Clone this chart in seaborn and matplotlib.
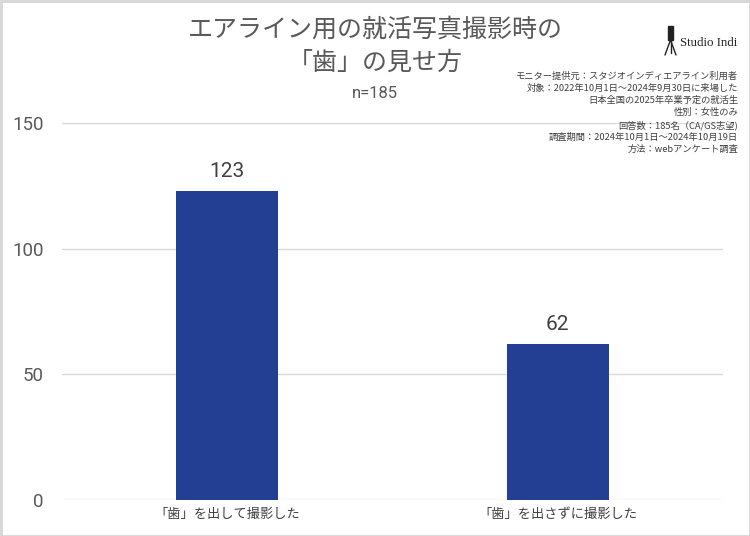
import matplotlib
matplotlib.use("Agg")
import matplotlib.pyplot as plt
import seaborn as sns
import pandas as pd
from matplotlib.patches import Rectangle
from matplotlib.lines import Line2D

categories = ["「歯」を出して撮影した", "「歯」を出さずに撮影した"]
values = [123, 62]
yticks = [0, 50, 100, 150]
title_lines = ["エアライン用の就活写真撮影時の", "「歯」の見せ方"]
subtitle = "n=185"
notes = [
    "モニター提供元：スタジオインディエアライン利用者",
    "対象：2022年10月1日～2024年9月30日に来場した",
    "日本全国の2025年卒業予定の就活生",
    "性別：女性のみ",
    "回答数：185名（CA/GS志望)",
    "調査期間：2024年10月1日～2024年10月19日",
    "方法：webアンケート調査",
]

sns.set_theme(style="white")
plt.rcParams['font.family'] = ['Noto Sans CJK JP', 'DejaVu Sans']

df = pd.DataFrame({"cat": categories, "val": values})

fig = plt.figure(figsize=(7.5, 5.36), dpi=100)
ax = fig.add_axes([62/750, 1-500/536, (723-62)/750, (500-123)/536])

sns.barplot(data=df, x="cat", y="val", ax=ax, color="#233F94", width=0.31,
            saturation=1, edgecolor="none")
ax.set_xlim(-0.5, 1.5)
ax.set_ylim(0, 150)
ax.set_yticks(yticks)
ax.set_yticklabels([str(t) for t in yticks], fontsize=13.5, color="#595959",
                   family=['Roboto', 'DejaVu Sans'])
ax.tick_params(axis='y', length=0, pad=13)
ax.tick_params(axis='x', length=0, pad=6, labelsize=9.5, labelcolor="#404040")
ax.set_xlabel("")
ax.set_ylabel("")
ax.grid(axis='y', color="#D9D9D9", linewidth=1)
ax.set_axisbelow(True)
for s in ax.spines.values():
    s.set_visible(False)

for p, v in zip(ax.patches, values):
    ax.annotate(str(v), (p.get_x() + p.get_width()/2, p.get_height()),
                xytext=(0, 7), textcoords="offset points", ha="center", va="bottom",
                fontsize=15, color="#404040", family=['Roboto', 'DejaVu Sans'])

fig.text(375/750, 1-30/536, title_lines[0], ha="center", va="center",
         fontsize=18, color="#595959")
fig.text(375/750, 1-63/536, title_lines[1], ha="center", va="center",
         fontsize=18, color="#595959")
fig.text(375/750, 1-94/536, subtitle, ha="center", va="center",
         fontsize=12, color="#595959", family=['Roboto', 'DejaVu Sans'])

y0 = 76
for i, line in enumerate(notes):
    fig.text(738/750, 1-(y0 + i*12.3)/536, line, ha="right", va="center",
             fontsize=6.7, color="#404040")

# logo
fig.text(680/750, 1-43/536, "Studio Indi", ha="left", va="center",
         fontsize=9.3, color="#222222", family=['Liberation Serif', 'DejaVu Serif'])
W, H = 750, 536
def fl(x1, y1, x2, y2, lw=1.0):
    fig.add_artist(Line2D([x1/W, x2/W], [1-y1/H, 1-y2/H], color="#222222",
                          linewidth=lw, transform=fig.transFigure))
fig.add_artist(Rectangle((668/W, 1-40/H), 5/W, 14/H, color="#222222",
                         transform=fig.transFigure))
fl(670.5, 40, 665, 55)
fl(670.5, 40, 676, 55)
fl(670.5, 40, 670.5, 53)

# border
fig.add_artist(Rectangle((0.5/W, 0.5/H), 1-1/W, 1-1/H, fill=False,
                         edgecolor="#D6D6D6", linewidth=2, transform=fig.transFigure))

fig.savefig("out.png", dpi=100)
